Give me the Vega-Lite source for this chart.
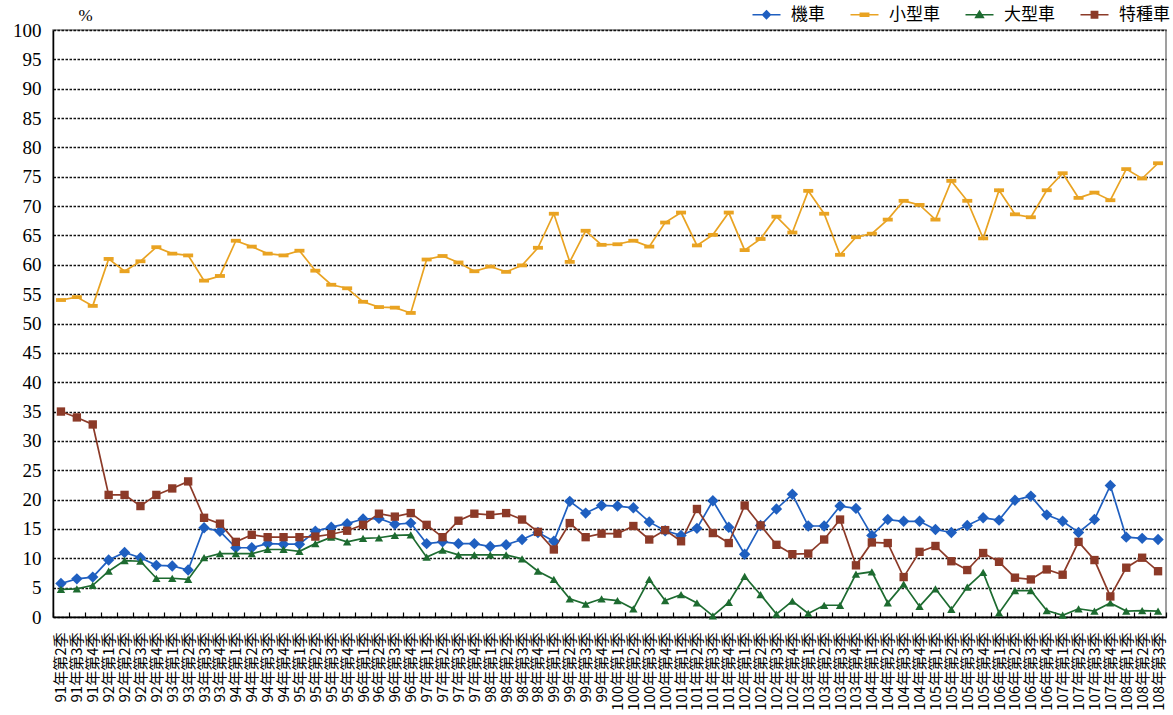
{
  "$schema": "https://vega.github.io/schema/vega-lite/v6.json",
  "width": 1113,
  "height": 587,
  "autosize": {"type": "none"},
  "padding": {"left": 53, "top": 30, "right": 7, "bottom": 98},
  "background": "white",
  "config": {"view": {"stroke": "#808080", "strokeWidth": 1.5}, "font": "Liberation Serif"},
  "data": {"values": [
    {"季": "91年第2季", "機車": 5.7, "小型車": 54.0, "大型車": 4.7, "特種車": 35.0},
    {"季": "91年第3季", "機車": 6.5, "小型車": 54.5, "大型車": 4.8, "特種車": 34.0},
    {"季": "91年第4季", "機車": 6.8, "小型車": 53.0, "大型車": 5.4, "特種車": 32.8},
    {"季": "92年第1季", "機車": 9.7, "小型車": 61.0, "大型車": 7.8, "特種車": 20.8},
    {"季": "92年第2季", "機車": 11.0, "小型車": 58.9, "大型車": 9.6, "特種車": 20.8},
    {"季": "92年第3季", "機車": 10.1, "小型車": 60.6, "大型車": 9.5, "特種車": 18.9},
    {"季": "92年第4季", "機車": 8.8, "小型車": 63.0, "大型車": 6.6, "特種車": 20.8},
    {"季": "93年第1季", "機車": 8.7, "小型車": 61.9, "大型車": 6.6, "特種車": 21.9},
    {"季": "93年第2季", "機車": 8.0, "小型車": 61.6, "大型車": 6.4, "特種車": 23.1},
    {"季": "93年第3季", "機車": 15.2, "小型車": 57.3, "大型車": 10.1, "特種車": 16.9},
    {"季": "93年第4季", "機車": 14.6, "小型車": 58.1, "大型車": 10.8, "特種車": 15.9},
    {"季": "94年第1季", "機車": 11.8, "小型車": 64.1, "大型車": 10.8, "特種車": 12.8},
    {"季": "94年第2季", "機車": 11.8, "小型車": 63.1, "大型車": 10.8, "特種車": 14.0},
    {"季": "94年第3季", "機車": 12.5, "小型車": 61.9, "大型車": 11.5, "特種車": 13.6},
    {"季": "94年第4季", "機車": 12.4, "小型車": 61.6, "大型車": 11.5, "特種車": 13.6},
    {"季": "95年第1季", "機車": 12.4, "小型車": 62.4, "大型車": 11.2, "特種車": 13.6},
    {"季": "95年第2季", "機車": 14.6, "小型車": 59.0, "大型車": 12.5, "特種車": 13.7},
    {"季": "95年第3季", "機車": 15.3, "小型車": 56.6, "大型車": 13.6, "特種車": 14.1},
    {"季": "95年第4季", "機車": 15.9, "小型車": 56.0, "大型車": 12.8, "特種車": 14.7},
    {"季": "96年第1季", "機車": 16.7, "小型車": 53.7, "大型車": 13.4, "特種車": 15.7},
    {"季": "96年第2季", "機車": 16.8, "小型車": 52.8, "大型車": 13.5, "特種車": 17.6},
    {"季": "96年第3季", "機車": 15.8, "小型車": 52.7, "大型車": 13.9, "特種車": 17.1},
    {"季": "96年第4季", "機車": 16.0, "小型車": 51.8, "大型車": 14.0, "特種車": 17.7},
    {"季": "97年第1季", "機車": 12.5, "小型車": 60.9, "大型車": 10.2, "特種車": 15.7},
    {"季": "97年第2季", "機車": 12.8, "小型車": 61.5, "大型車": 11.4, "特種車": 13.6},
    {"季": "97年第3季", "機車": 12.5, "小型車": 60.4, "大型車": 10.6, "特種車": 16.4},
    {"季": "97年第4季", "機車": 12.5, "小型車": 58.9, "大型車": 10.6, "特種車": 17.6},
    {"季": "98年第1季", "機車": 12.0, "小型車": 59.7, "大型車": 10.6, "特種車": 17.4},
    {"季": "98年第2季", "機車": 12.3, "小型車": 58.8, "大型車": 10.6, "特種車": 17.7},
    {"季": "98年第3季", "機車": 13.2, "小型車": 59.9, "大型車": 9.9, "特種車": 16.6},
    {"季": "98年第4季", "機車": 14.4, "小型車": 62.9, "大型車": 7.8, "特種車": 14.5},
    {"季": "99年第1季", "機車": 12.9, "小型車": 68.7, "大型車": 6.4, "特種車": 11.5},
    {"季": "99年第2季", "機車": 19.7, "小型車": 60.5, "大型車": 3.1, "特種車": 16.0},
    {"季": "99年第3季", "機車": 17.7, "小型車": 65.8, "大型車": 2.2, "特種車": 13.6},
    {"季": "99年第4季", "機車": 19.0, "小型車": 63.4, "大型車": 3.1, "特種車": 14.2},
    {"季": "100年第1季", "機車": 18.9, "小型車": 63.5, "大型車": 2.8, "特種車": 14.2},
    {"季": "100年第2季", "機車": 18.6, "小型車": 64.1, "大型車": 1.4, "特種車": 15.5},
    {"季": "100年第3季", "機車": 16.2, "小型車": 63.1, "大型車": 6.4, "特種車": 13.2},
    {"季": "100年第4季", "機車": 14.7, "小型車": 67.2, "大型車": 2.8, "特種車": 14.8},
    {"季": "101年第1季", "機車": 13.9, "小型車": 68.9, "大型車": 3.8, "特種車": 12.9},
    {"季": "101年第2季", "機車": 15.1, "小型車": 63.3, "大型車": 2.4, "特種車": 18.4},
    {"季": "101年第3季", "機車": 19.8, "小型車": 65.1, "大型車": 0.2, "特種車": 14.3},
    {"季": "101年第4季", "機車": 15.3, "小型車": 68.9, "大型車": 2.5, "特種車": 12.6},
    {"季": "102年第1季", "機車": 10.7, "小型車": 62.5, "大型車": 6.9, "特種車": 19.0},
    {"季": "102年第2季", "機車": 15.6, "小型車": 64.4, "大型車": 3.8, "特種車": 15.6},
    {"季": "102年第3季", "機車": 18.4, "小型車": 68.2, "大型車": 0.5, "特種車": 12.3},
    {"季": "102年第4季", "機車": 20.9, "小型車": 65.5, "大型車": 2.7, "特種車": 10.7},
    {"季": "103年第1季", "機車": 15.5, "小型車": 72.6, "大型車": 0.6, "特種車": 10.8},
    {"季": "103年第2季", "機車": 15.5, "小型車": 68.7, "大型車": 2.0, "特種車": 13.2},
    {"季": "103年第3季", "機車": 18.9, "小型車": 61.7, "大型車": 2.0, "特種車": 16.6},
    {"季": "103年第4季", "機車": 18.5, "小型車": 64.7, "大型車": 7.3, "特種車": 8.8},
    {"季": "104年第1季", "機車": 13.9, "小型車": 65.3, "大型車": 7.7, "特種車": 12.7},
    {"季": "104年第2季", "機車": 16.6, "小型車": 67.7, "大型車": 2.4, "特種車": 12.6},
    {"季": "104年第3季", "機車": 16.3, "小型車": 70.9, "大型車": 5.6, "特種車": 6.8},
    {"季": "104年第4季", "機車": 16.3, "小型車": 70.2, "大型車": 1.8, "特種車": 11.1},
    {"季": "105年第1季", "機車": 14.9, "小型車": 67.7, "大型車": 4.8, "特種車": 12.1},
    {"季": "105年第2季", "機車": 14.4, "小型車": 74.3, "大型車": 1.3, "特種車": 9.5},
    {"季": "105年第3季", "機車": 15.6, "小型車": 70.9, "大型車": 5.1, "特種車": 8.0},
    {"季": "105年第4季", "機車": 16.9, "小型車": 64.5, "大型車": 7.6, "特種車": 10.9},
    {"季": "106年第1季", "機車": 16.5, "小型車": 72.7, "大型車": 0.7, "特種車": 9.4},
    {"季": "106年第2季", "機車": 19.9, "小型車": 68.6, "大型車": 4.5, "特種車": 6.7},
    {"季": "106年第3季", "機車": 20.6, "小型車": 68.1, "大型車": 4.5, "特種車": 6.4},
    {"季": "106年第4季", "機車": 17.4, "小型車": 72.7, "大型車": 1.1, "特種車": 8.1},
    {"季": "107年第1季", "機車": 16.3, "小型車": 75.6, "大型車": 0.3, "特種車": 7.2},
    {"季": "107年第2季", "機車": 14.4, "小型車": 71.4, "大型車": 1.4, "特種車": 12.8},
    {"季": "107年第3季", "機車": 16.6, "小型車": 72.3, "大型車": 1.0, "特種車": 9.7},
    {"季": "107年第4季", "機車": 22.4, "小型車": 71.0, "大型車": 2.4, "特種車": 3.5},
    {"季": "108年第1季", "機車": 13.6, "小型車": 76.3, "大型車": 1.0, "特種車": 8.4},
    {"季": "108年第2季", "機車": 13.4, "小型車": 74.7, "大型車": 1.1, "特種車": 10.1},
    {"季": "108年第3季", "機車": 13.2, "小型車": 77.3, "大型車": 1.0, "特種車": 7.8}
  ]},
  "transform": [{"fold": ["機車", "小型車", "大型車", "特種車"], "as": ["類別", "比例"]}],
  "encoding": {
    "x": {
      "field": "季", "type": "ordinal", "sort": null, "bandPosition": 0.5,
      "scale": {"type": "band", "paddingInner": 0, "paddingOuter": 0},
      "axis": {
        "title": null, "labelAngle": -90, "labelFont": "Noto Sans CJK TC", "labelFontSize": 15,
        "labelColor": "black", "labelPadding": 20, "tickBand": "extent", "ticks": true, "tickSize": -5,
        "tickColor": "black", "tickWidth": 1.2, "domainColor": "black", "domainWidth": 1.5,
        "labelOverlap": false, "labelBound": false
      }
    },
    "y": {
      "field": "比例", "type": "quantitative",
      "scale": {"domain": [0, 100], "nice": false},
      "axis": {
        "title": "%", "titleAngle": 0, "titleX": 32, "titleY": -6, "titleFont": "Liberation Serif",
        "titleFontSize": 17, "titleFontWeight": "normal", "titleAlign": "center", "titleColor": "black",
        "values": [0, 5, 10, 15, 20, 25, 30, 35, 40, 45, 50, 55, 60, 65, 70, 75, 80, 85, 90, 95, 100],
        "labelFont": "Liberation Serif", "labelFontSize": 19, "labelColor": "black", "ticks": false,
        "labelPadding": 12, "domainColor": "black", "domainWidth": 1.5,
        "grid": true, "gridDash": [2.5, 1.5], "gridColor": "#111111", "gridWidth": 1.5
      }
    },
    "color": {
      "field": "類別", "type": "nominal",
      "scale": {"domain": ["機車", "小型車", "大型車", "特種車"], "range": ["#1f5fc0", "#e9a322", "#1d6b30", "#8c3a28"]},
      "legend": {
        "orient": "none", "legendX": 705, "legendY": -24, "direction": "horizontal", "title": null,
        "labelFont": "Noto Sans CJK TC", "labelFontSize": 17, "labelColor": "black",
        "symbolType": "stroke", "symbolSize": 196, "symbolStrokeWidth": 1.5, "labelOffset": 16, "columnPadding": 22,
        "encode": {
          "symbols": {"update": {
            "shape": {"signal": "datum.value === '機車' ? 'M-2,0H2M0,-0.55L0.55,0L0,0.55L-0.55,0Z' : datum.value === '小型車' ? 'M-2,0H2M-0.6,-0.22H0.6V0.22H-0.6Z' : datum.value === '大型車' ? 'M-2,0H2M0,-0.5L0.55,0.4H-0.55Z' : 'M-2,0H2M-0.45,-0.45H0.45V0.45H-0.45Z'"},
            "fill": {"signal": "scale('color', datum.value)"},
            "stroke": {"signal": "datum.value === '大型車' ? '#333333' : scale('color', datum.value)"},
            "strokeWidth": {"value": 1.5}
          }}
        }
      }
    }
  },
  "layer": [
    {"mark": {"type": "line", "strokeWidth": 1.7}},
    {"transform": [{"filter": {"field": "類別", "equal": "機車"}}],
     "mark": {"type": "point", "filled": true, "opacity": 1, "shape": "diamond", "size": 130}},
    {"transform": [{"filter": {"field": "類別", "equal": "小型車"}}],
     "mark": {"type": "point", "filled": true, "opacity": 1, "shape": "M-1,-0.38H1V0.38H-1Z", "size": 100}},
    {"transform": [{"filter": {"field": "類別", "equal": "大型車"}}],
     "mark": {"type": "point", "filled": true, "opacity": 1, "shape": "triangle-up", "size": 70}},
    {"transform": [{"filter": {"field": "類別", "equal": "特種車"}}],
     "mark": {"type": "point", "filled": true, "opacity": 1, "shape": "square", "size": 70}}
  ]
}
